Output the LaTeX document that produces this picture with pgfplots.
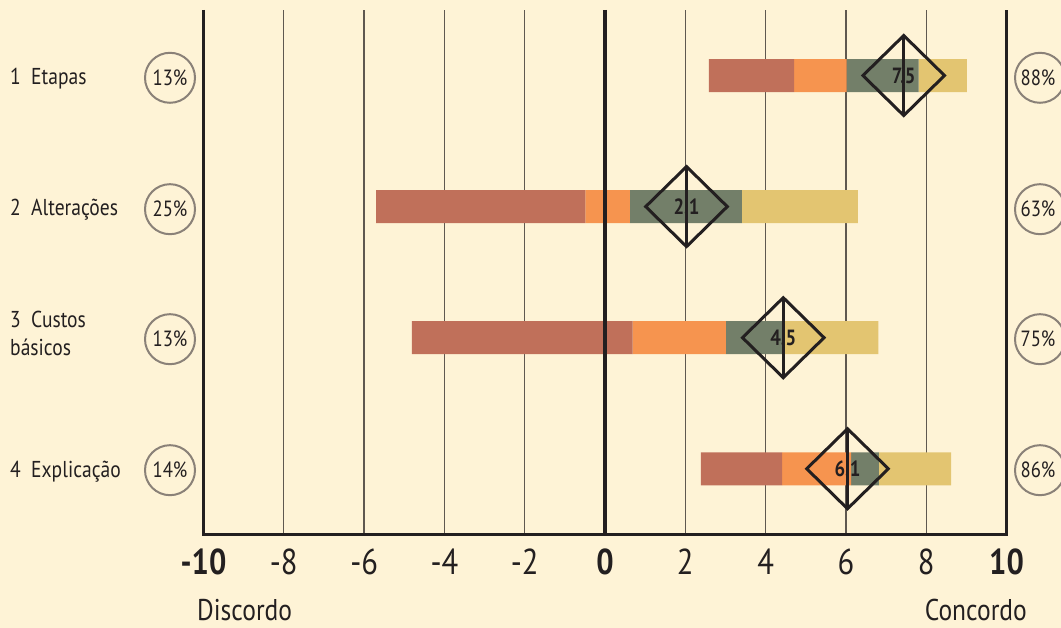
\documentclass[border=0pt]{standalone}
\usepackage{pgfplots}
\pgfplotsset{compat=1.18}
\usepackage{fontspec}
\setmainfont{PT Sans}[FakeStretch=0.85]
\definecolor{bg}{RGB}{254,243,214}
\definecolor{cbrown}{RGB}{192,112,90}
\definecolor{corange}{RGB}{246,148,79}
\definecolor{cgreen}{RGB}{115,127,105}
\definecolor{cyellow}{RGB}{227,197,113}
\definecolor{gridc}{RGB}{95,88,80}
\definecolor{ink}{RGB}{35,31,32}
\definecolor{circ}{RGB}{138,129,120}
\pgfplotsset{
  common/.style={
    at={(203.5pt,93.7pt)}, anchor=south west,
    scale only axis, width=803pt, height=524.3pt,
    xmin=-10, xmax=10, ymin=0.5, ymax=4.5,
    clip=false,
  }
}
\begin{document}
\begin{tikzpicture}
\useasboundingbox (0pt,0pt) rectangle (1061pt,628pt);
\fill[bg] (0pt,0pt) rectangle (1061pt,628pt);
% ---- bars ----
\begin{axis}[common,
  xbar stacked, stack negative=on previous, bar width=33pt,
  axis line style={draw=none},
  major tick length=0pt,
  ytick=\empty,
  xtick={-10,-8,...,10},
  xticklabels={\textbf{-10},-8,-6,-4,-2,\textbf{0},2,4,6,8,\textbf{10}},
  xticklabel style={font=\fontsize{36}{36}\selectfont, text=ink, yshift=-11pt},
  xmajorgrids, grid style={gridc, line width=1.3pt},
]
\draw[ink, line width=4.5pt] (axis cs:0,4.5) -- (axis cs:0,0.5);
\draw[ink, line width=3pt, line join=miter] (axis cs:-10,4.5) -- (axis cs:-10,0.5) -- (axis cs:10,0.5) -- (axis cs:10,4.5);
\addplot[draw=none, fill=none] coordinates {(2.59,4) (-5.70,3) (-4.81,2) (2.39,1)};
\addplot[fill=cbrown, draw=none] coordinates {(2.12,4) (5.21,3) (5.50,2) (2.02,1)};
\addplot[fill=corange, draw=none] coordinates {(1.31,4) (1.11,3) (2.32,2) (1.72,1)};
\addplot[fill=cgreen, draw=none] coordinates {(1.79,4) (2.79,3) (1.40,2) (0.69,1)};
\addplot[fill=cyellow, draw=none] coordinates {(1.20,4) (2.89,3) (2.40,2) (1.80,1)};
\end{axis}
% ---- diamonds ----
\begin{axis}[common, hide axis]
\addplot[ink, line width=3pt, only marks, mark=diamond, mark size=40pt,
  mark options={xscale=1.36, line join=miter, solid}]
  coordinates {(7.44,4) (2.03,3) (4.44,2) (6.04,1)};
\addplot[ink, line width=3.5pt, only marks, mark=|, mark size=40pt]
  coordinates {(7.44,4) (2.03,3) (4.44,2) (6.04,1)};
\coordinate (d1) at (axis cs:7.44,4);
\coordinate (d2) at (axis cs:2.03,3);
\coordinate (d3) at (axis cs:4.44,2);
\coordinate (d4) at (axis cs:6.04,1);
\end{axis}
\begin{scope}[every node/.style={font=\bfseries\fontsize{22}{22}\selectfont, text=ink}]
\node at (d1) {7.5};
\node at (d2) {2.1};
\node at (d3) {4.5};
\node at (d4) {6.1};
\end{scope}
% ---- row labels ----
\begin{scope}[every node/.style={anchor=base west, inner sep=0pt, text=ink, font=\fontsize{23}{23}\selectfont}]
\node at (10pt,543.7pt) {1\hspace{0.45em}Etapas};
\node at (10pt,412.3pt) {2\hspace{0.45em}Alterações};
\node at (10pt,300.7pt) {3\hspace{0.45em}Custos};
\node at (10pt,272pt) {básicos};
\node at (10pt,150.3pt) {4\hspace{0.45em}Explicação};
\end{scope}
% ---- circles ----
\begin{scope}[every node/.style={text=ink, font=\fontsize{22}{22}\selectfont}]
\draw[circ, line width=2pt] (170pt,550.2pt) circle (25pt); \node at (170pt,550.2pt) {13\%};
\draw[circ, line width=2pt] (170pt,418.8pt) circle (25pt); \node at (170pt,418.8pt) {25\%};
\draw[circ, line width=2pt] (170pt,288.8pt) circle (25pt); \node at (170pt,288.8pt) {13\%};
\draw[circ, line width=2pt] (170pt,157.8pt) circle (25pt); \node at (170pt,157.8pt) {14\%};
\draw[circ, line width=2pt] (1040pt,550.2pt) circle (25pt); \node at (1038pt,550.2pt) {88\%};
\draw[circ, line width=2pt] (1040pt,418.8pt) circle (25pt); \node at (1038pt,418.8pt) {63\%};
\draw[circ, line width=2pt] (1040pt,288.8pt) circle (25pt); \node at (1038pt,288.8pt) {75\%};
\draw[circ, line width=2pt] (1040pt,157.8pt) circle (25pt); \node at (1038pt,157.8pt) {86\%};
\end{scope}
% ---- axis end labels ----
\node[anchor=base west, inner sep=0pt, text=ink, font=\fontsize{30}{30}\selectfont] at (197pt,7pt) {Discordo};
\node[anchor=base east, inner sep=0pt, text=ink, font=\fontsize{30}{30}\selectfont] at (1027pt,7pt) {Concordo};
\end{tikzpicture}
\end{document}
